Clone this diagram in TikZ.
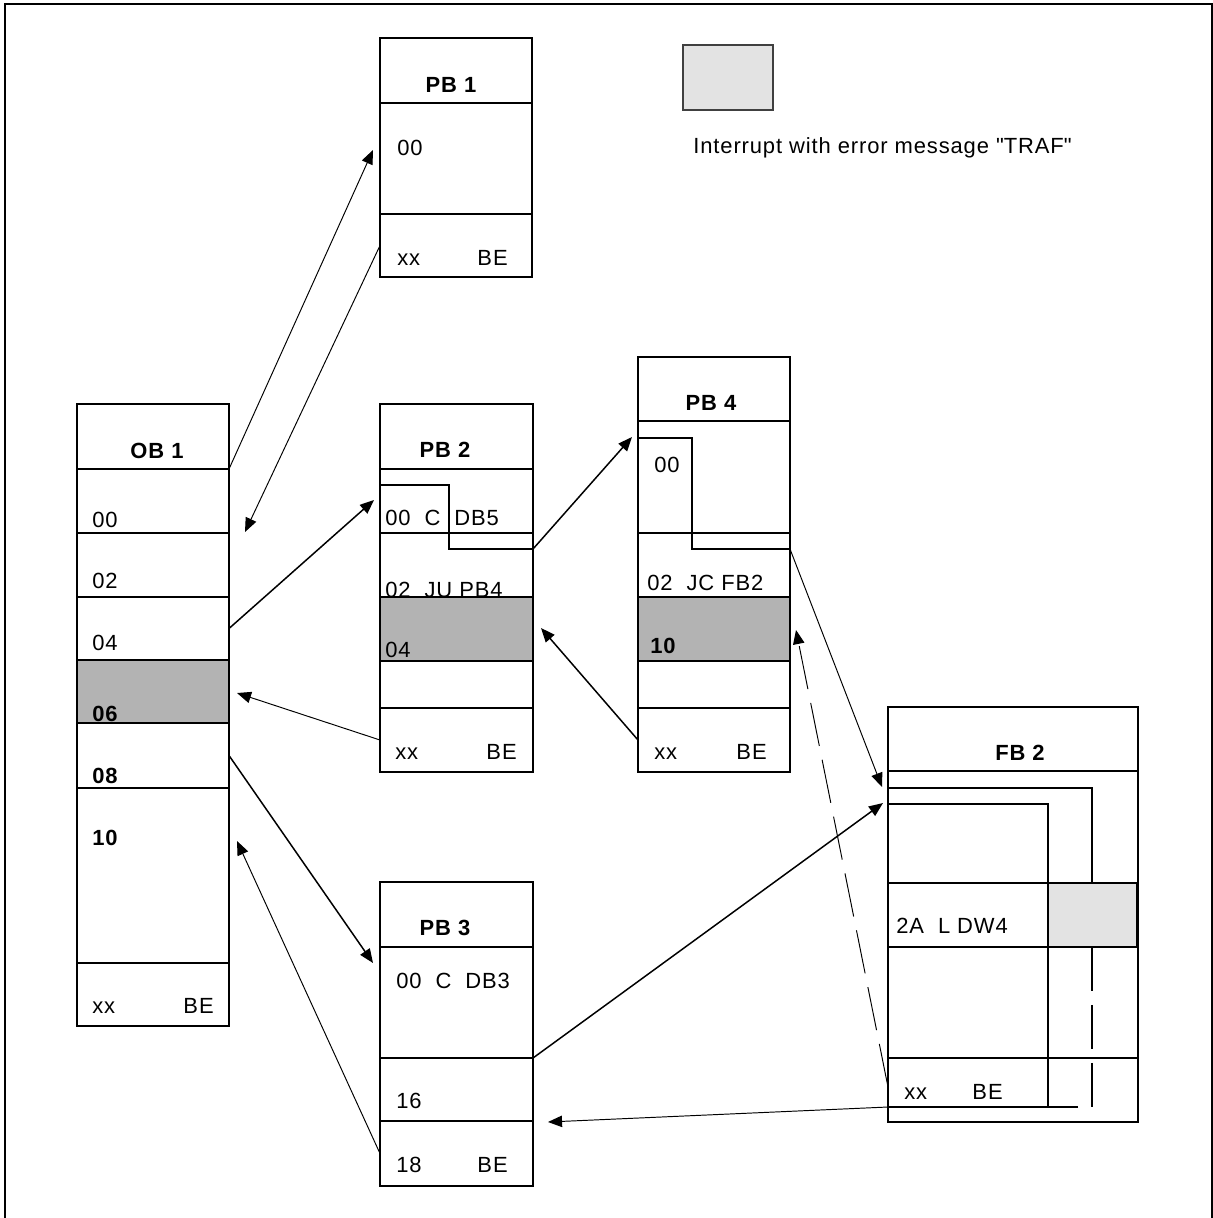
\documentclass[tikz,border=0pt]{standalone}
\usepackage{fontspec}
\setmainfont[LetterSpace=4]{Liberation Sans}
\definecolor{errgray}{HTML}{B3B3B3}
\definecolor{trafgray}{HTML}{E3E3E3}
\usetikzlibrary{arrows.meta,fit}
\tikzset{
    blockhead/.style={
        draw=black,
        line width=1.1pt,
        inner sep=0pt,
        outer sep=0pt
    },
    blockrow/.style={
        draw=black,
        line width=0.6pt,
        inner sep=0pt,
        outer sep=0pt
    },
    rowerror/.style={
        blockrow,
        fill=errgray
    },
    rowtraf/.style={
        blockrow,
        fill=trafgray,
        line width=0.9pt
    },
    headlabel/.style={
        anchor=base,
        inner sep=0pt,
        font=\bfseries
    },
    rowlabel/.style={
        anchor=base west,
        inner sep=0pt
    },
    rowlabelend/.style={
        anchor=base east,
        inner sep=0pt
    },
    callarrow/.style={
        -{Triangle[length=8pt,width=6.5pt]},
        line width=0.85pt
    },
    returnarrow/.style={
        -{Triangle[length=8pt,width=6.5pt]},
        line width=0.55pt
    },
    errorarrow/.style={
        returnarrow,
        dash pattern=on 25pt off 8pt
    },
    flowpath/.style={
        line width=1.4pt,
        line join=miter
    }
}
\begin{document}
\fontsize{12.5pt}{15pt}\selectfont
\begin{tikzpicture}[x=0.02cm,y=-0.02cm]
        \useasboundingbox (0,0) rectangle (1213,1218);
        \draw[line width=1.7pt] (5,1225) |- (1212,4) -- (1212,1225);

        % OB 1
        \node[blockhead,fit={(77,404) (229,469)}] (ob1-head) {};
        \node[blockrow,fit={(77,469) (229,533)}] (ob1-00) {};
        \node[blockrow,fit={(77,533) (229,597)}] (ob1-02) {};
        \node[blockrow,fit={(77,597) (229,660)}] (ob1-04) {};
        \node[rowerror,fit={(77,660) (229,723)}] (ob1-06) {};
        \node[blockrow,fit={(77,723) (229,788)}] (ob1-08) {};
        \node[blockrow,fit={(77,788) (229,963)}] (ob1-10) {};
        \node[blockrow,fit={(77,963) (229,1026)}] (ob1-xx) {};
        \node[headlabel] (ob1-title) at (157,458) {OB 1};
        \node[rowlabel] (ob1-t00) at (92,527) {00};
        \node[rowlabel] (ob1-t02) at (92,588) {02};
        \node[rowlabel] (ob1-t04) at (92,650) {04};
        \node[rowlabel,font=\bfseries] (ob1-t06) at (92,721) {06};
        \node[rowlabel,font=\bfseries] (ob1-t08) at (92,783) {08};
        \node[rowlabel,font=\bfseries] (ob1-t10) at (92,845) {10};
        \node[rowlabel] (ob1-txx) at (92,1013) {xx};
        \node[rowlabelend] (ob1-tbe) at (214,1013) {BE};

        % PB 1
        \node[blockhead,fit={(380,38) (532,103)}] (pb1-head) {};
        \node[blockrow,fit={(380,103) (532,214)}] (pb1-00) {};
        \node[blockrow,fit={(380,214) (532,277)}] (pb1-xx) {};
        \node[headlabel] (pb1-title) at (451,92) {PB 1};
        \node[rowlabel] (pb1-t00) at (397,155) {00};
        \node[rowlabel] (pb1-txx) at (397,265) {xx};
        \node[rowlabelend] (pb1-tbe) at (508,265) {BE};

        % PB 2
        \node[blockhead,fit={(380,404) (533,469)}] (pb2-head) {};
        \node[blockrow,fit={(380,469) (533,533)}] (pb2-00) {};
        \node[blockrow,fit={(380,533) (533,597)}] (pb2-02) {};
        \node[blockrow,fit={(380,661) (533,708)}] (pb2-06) {};
        \node[blockrow,fit={(380,708) (533,772)}] (pb2-xx) {};
        \node[headlabel] (pb2-title) at (445,457) {PB 2};
        \node[rowlabel] (pb2-t00) at (385,525) {00\ \ C\ \ DB5};
        \node[rowlabel] (pb2-t02) at (385,597) {02\ \ JU PB4};
        \node[rowerror,fit={(380,597) (533,661)}] (pb2-04) {};
        \node[rowlabel] (pb2-t04) at (385,657) {04};
        \node[rowlabel] (pb2-txx) at (395,759) {xx};
        \node[rowlabelend] (pb2-tbe) at (517,759) {BE};

        % PB 4
        \node[blockhead,fit={(638,357) (790,421)}] (pb4-head) {};
        \node[blockrow,fit={(638,421) (790,533)}] (pb4-00) {};
        \node[blockrow,fit={(638,533) (790,597)}] (pb4-02) {};
        \node[rowerror,fit={(638,597) (790,661)}] (pb4-10) {};
        \node[blockrow,fit={(638,661) (790,708)}] (pb4-12) {};
        \node[blockrow,fit={(638,708) (790,772)}] (pb4-xx) {};
        \node[headlabel] (pb4-title) at (711,410) {PB 4};
        \node[rowlabel] (pb4-t00) at (654,472) {00};
        \node[rowlabel] (pb4-t02) at (647,590) {02\ \ JC FB2};
        \node[rowlabel,font=\bfseries] (pb4-t10) at (650,653) {10};
        \node[rowlabel] (pb4-txx) at (654,759) {xx};
        \node[rowlabelend] (pb4-tbe) at (767,759) {BE};

        % PB 3
        \node[blockhead,fit={(380,882) (533,947)}] (pb3-head) {};
        \node[blockrow,fit={(380,947) (533,1058)}] (pb3-00) {};
        \node[blockrow,fit={(380,1058) (533,1121)}] (pb3-16) {};
        \node[blockrow,fit={(380,1121) (533,1186)}] (pb3-18) {};
        \node[headlabel] (pb3-title) at (445,935) {PB 3};
        \node[rowlabel] (pb3-t00) at (396,988) {00\ \ C\ \ DB3};
        \node[rowlabel] (pb3-t16) at (396,1108) {16};
        \node[rowlabel] (pb3-t18) at (396,1172) {18};
        \node[rowlabelend] (pb3-tbe) at (508,1172) {BE};

        % FB 2
        \node[blockrow,fit={(888,707) (1138,771)}] (fb2-head) {};
        \node[blockrow,fit={(888,771) (1138,883)}] (fb2-00) {};
        \node[blockrow,fit={(888,883) (1138,947)}] (fb2-2a) {};
        \node[blockrow,fit={(888,947) (1138,1058)}] (fb2-2c) {};
        \node[blockrow,fit={(888,1058) (1138,1122)}] (fb2-xx) {};
        \node[rowtraf,fit={(1048,883) (1137,947)}] (fb2-traf) {};
        \node[headlabel] (fb2-title) at (1020,760) {FB 2};
        \node[rowlabel] (fb2-t2a) at (896,933) {2A\ \ L DW4};
        \node[rowlabel] (fb2-txx) at (904,1099) {xx};
        \node[rowlabelend] (fb2-tbe) at (1003,1099) {BE};

        % legend
        \node[rowtraf,draw=black!75,fit={(683,45) (773,110)}] (legend) {};
        \node[rowlabel] (legend-text) at (693,153)
            {Interrupt with error message \textquotedbl TRAF\textquotedbl};

        % program flow
        \coordinate (pb2-in) at (380,485);
        \coordinate (pb2-out) at (533,549);
        \coordinate (pb4-in) at (638,438);
        \coordinate (pb4-out) at (790,549);
        \coordinate (fb2-in) at (888,788);
        \coordinate (fb2-in2) at (888,804);
        \coordinate (fb2-end) at (888,1107);
        \draw[flowpath] (pb2-in) -| (449,549) -- (pb2-out);
        \draw[flowpath] (pb4-in) -| (692,549) -- (pb4-out);
        \draw[flowpath] (fb2-in) -| (1092,883);
        \draw[flowpath] (fb2-in2) -| (1048,1107) -- (fb2-end);
        \draw[line width=0.6pt,dash pattern=on 25pt off 8pt]
            (1092,947) |- (1048,1107);

        % calls and returns
        \coordinate (pb1-tip) at (373,150);
        \coordinate (ob1-tip00) at (245,532);
        \coordinate (pb2-tip) at (374,500);
        \coordinate (ob1-tip06) at (237,693);
        \coordinate (pb4-tip) at (632,437);
        \coordinate (pb2-tip04) at (541,628);
        \coordinate (fb2-tip) at (882,787);
        \coordinate (pb3-tip) at (373,963);
        \coordinate (ob1-tip10) at (237,841);
        \coordinate (fb2-tip2) at (883,803);
        \coordinate (pb3-tip16) at (548,1122);
        \coordinate (pb4-tip10) at (796,630);
        \draw[returnarrow] (ob1-head.south east) -- (pb1-tip);
        \draw[returnarrow] (pb1-xx.west) -- (ob1-tip00);
        \draw[callarrow] (ob1-04.east) -- (pb2-tip);
        \draw[returnarrow] (pb2-xx.west) -- (ob1-tip06);
        \draw[callarrow] (pb2-out) -- (pb4-tip);
        \draw[callarrow] (pb4-xx.west) -- (pb2-tip04);
        \draw[returnarrow] (pb4-out) -- (fb2-tip);
        \draw[callarrow] (ob1-08.east) -- (pb3-tip);
        \draw[returnarrow] (pb3-18.west) -- (ob1-tip10);
        \draw[callarrow] (pb3-00.south east) -- (fb2-tip2);
        \draw[returnarrow] (fb2-end) -- (pb3-tip16);
        \draw[errorarrow] (888,1087) -- (pb4-tip10);
    \end{tikzpicture}
\end{document}
